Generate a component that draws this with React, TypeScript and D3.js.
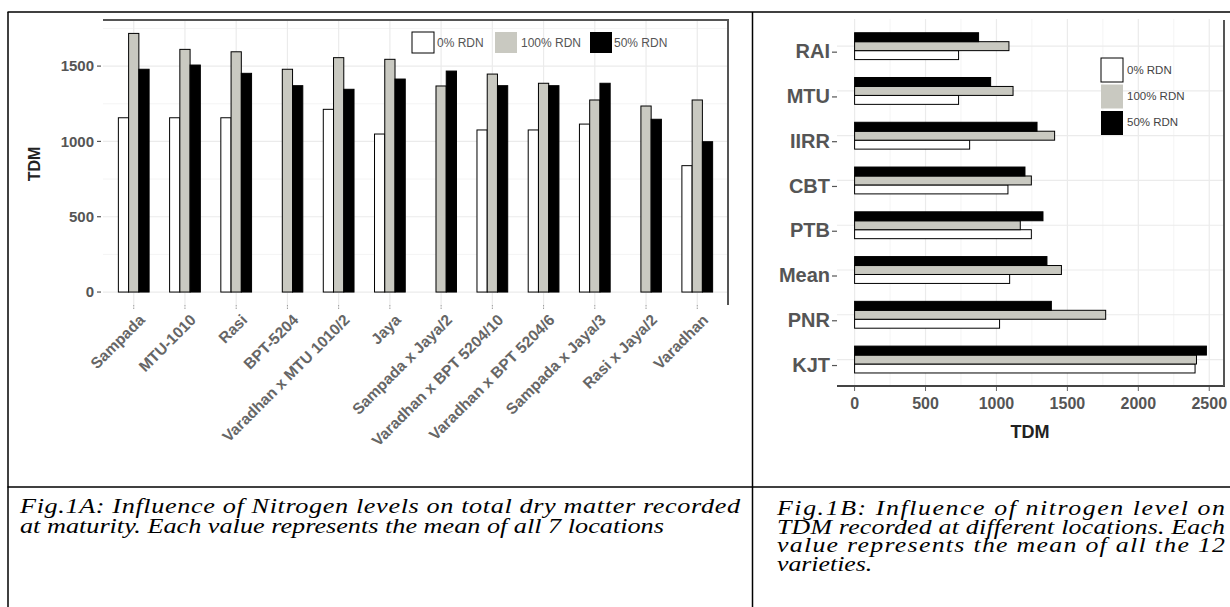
import React from "react";
import * as d3 from "d3";

// ---------- data ----------
const seriesNames = ["0% RDN", "100% RDN", "50% RDN"];
const seriesFills = ["#ffffff", "#c9c9c1", "#000000"];

const leftCats = [
  "Sampada", "MTU-1010", "Rasi", "BPT-5204", "Varadhan x MTU 1010/2", "Jaya",
  "Sampada x Jaya/2", "Varadhan x BPT 5204/10", "Varadhan x BPT 5204/6",
  "Sampada x Jaya/3", "Rasi x Jaya/2", "Varadhan",
];
const leftRdn0: (number | null)[] = [1157, 1157, 1157, null, 1213, 1049, null, 1076, 1076, 1115, null, 839];
const leftRdn100 = [1717, 1611, 1595, 1479, 1556, 1545, 1368, 1447, 1386, 1275, 1235, 1275];
const leftRdn50 = [1479, 1507, 1452, 1370, 1346, 1414, 1467, 1370, 1370, 1386, 1147, 998];
const leftTicks = [0, 500, 1000, 1500];
const leftMinor = [250, 750, 1250, 1750];

const rightCats = ["RAI", "MTU", "IIRR", "CBT", "PTB", "Mean", "PNR", "KJT"];
const rightRdn0 = [733, 733, 811, 1081, 1246, 1093, 1022, 2400];
const rightRdn100 = [1088, 1117, 1410, 1246, 1168, 1458, 1770, 2410];
const rightRdn50 = [874, 959, 1286, 1201, 1328, 1356, 1387, 2480];
const rightTicks = [0, 500, 1000, 1500, 2000, 2500];
const rightMinor = [250, 750, 1250, 1750, 2250];

const captionA = [
  "Fig.1A: Influence of Nitrogen levels on total dry matter recorded",
  "at maturity. Each value represents the mean of all 7 locations",
];
const captionB = [
  "Fig.1B: Influence of nitrogen level on",
  "TDM recorded at different locations. Each",
  "value represents the mean of all the 12",
  "varieties.",
];

const SANS = "'Liberation Sans', Arial, sans-serif";
const SERIF = "'Liberation Serif', 'Times New Roman', serif";

export default function App() {
  // ---------- left chart (vertical bars) ----------
  const lx = d3.scalePoint<string>().domain(leftCats).range([103, 728]).padding(0.6);
  const ly = d3.scaleLinear().domain([-86, 1806]).range([305, 20]);
  const lw = lx.step() * 0.2;
  const leftSeries = [leftRdn0, leftRdn100, leftRdn50];

  // ---------- right chart (horizontal bars) ----------
  const rx = d3.scaleLinear().domain([-124, 2604]).range([837, 1224]);
  const ry = d3.scalePoint<string>().domain(rightCats).range([19.3, 386.4]).padding(0.6);
  const rh = ry.step() * 0.2;
  const rightSeries = [rightRdn0, rightRdn100, rightRdn50];

  const leftLegendX = [412, 495, 590];
  const leftLegendTextX = [437, 521, 614];

  const sA = 1.22;
  const sB = 1.2;

  return (
    <svg
      width={1230}
      height={607}
      style={{ position: "absolute", left: 0, top: 0, background: "#fff" }}
    >
      {/* ================= LEFT CHART ================= */}
      <g>
        {leftMinor.map((v) => (
          <line key={"lm" + v} x1={103} x2={728} y1={ly(v)} y2={ly(v)} stroke="#f4f4f4" strokeWidth={1} />
        ))}
        {leftTicks.map((v) => (
          <line key={"lg" + v} x1={103} x2={728} y1={ly(v)} y2={ly(v)} stroke="#ebebeb" strokeWidth={1.2} />
        ))}
        {leftCats.map((c) => (
          <line key={"lv" + c} x1={lx(c)} x2={lx(c)} y1={20} y2={305} stroke="#ebebeb" strokeWidth={1.2} />
        ))}

        {leftSeries.map((arr, s) =>
          arr.map((v, i) => {
            if (v == null) return null;
            const cx = lx(leftCats[i])!;
            const x0 = cx - 1.5 * lw + s * lw;
            return (
              <rect
                key={`lb${s}-${i}`}
                x={x0}
                y={ly(v)}
                width={lw}
                height={ly(0) - ly(v)}
                fill={seriesFills[s]}
                stroke="#000"
                strokeWidth={1}
              />
            );
          })
        )}

        <line x1={103} x2={729} y1={20} y2={20} stroke="#555" strokeWidth={2} />
        <line x1={728} x2={728} y1={20} y2={305} stroke="#555" strokeWidth={2} />

        {leftTicks.map((v) => (
          <g key={"lt" + v}>
            <line x1={97} x2={101} y1={ly(v)} y2={ly(v)} stroke="#555" strokeWidth={1.2} />
            <text x={94} y={ly(v)} dy="0.36em" textAnchor="end" fontFamily={SANS} fontSize={15} fontWeight="bold" fill="#555">
              {v}
            </text>
          </g>
        ))}
        <text
          transform={`translate(40,${ly(850)}) rotate(-90)`}
          textAnchor="middle"
          fontFamily={SANS}
          fontSize={16}
          fontWeight="bold"
          fill="#222"
        >
          TDM
        </text>

        {leftCats.map((c) => {
          const cx = lx(c)!;
          return (
            <g key={"lxl" + c}>
              <line x1={cx} x2={cx} y1={305} y2={309} stroke="#999" strokeWidth={1} strokeDasharray="1.5,1" />
              <text
                transform={`translate(${cx + 12},${321}) rotate(-45)`}
                textAnchor="end"
                fontFamily={SANS}
                fontSize={15.5}
                fontWeight="bold"
                fill="#666"
              >
                {c}
              </text>
            </g>
          );
        })}

        {seriesNames.map((n, s) => (
          <g key={"ll" + n}>
            <rect x={leftLegendX[s]} y={32} width={22} height={21} fill={seriesFills[s]} stroke={s === 0 ? "#000" : "none"} strokeWidth={1} />
            <text x={leftLegendTextX[s]} y={43} dy="0.35em" fontFamily={SANS} fontSize={12} fill="#555">
              {n}
            </text>
          </g>
        ))}
      </g>

      {/* ================= RIGHT CHART ================= */}
      <g>
        {rightMinor.map((v) => (
          <line key={"rm" + v} x1={rx(v)} x2={rx(v)} y1={19} y2={386} stroke="#f4f4f4" strokeWidth={1} />
        ))}
        {rightTicks.map((v) => (
          <line key={"rg" + v} x1={rx(v)} x2={rx(v)} y1={19} y2={386} stroke="#ebebeb" strokeWidth={1.2} />
        ))}
        {rightCats.map((c) => (
          <line key={"rh" + c} x1={837} x2={1224} y1={ry(c)} y2={ry(c)} stroke="#ebebeb" strokeWidth={1.2} />
        ))}

        {rightSeries.map((arr, s) =>
          arr.map((v, i) => {
            const cy = ry(rightCats[i])!;
            const top = cy + 1.5 * rh - (s + 1) * rh;
            return (
              <rect
                key={`rb${s}-${i}`}
                x={rx(0)}
                y={top}
                width={rx(v) - rx(0)}
                height={rh}
                fill={seriesFills[s]}
                stroke="#000"
                strokeWidth={1}
              />
            );
          })
        )}

        <line x1={837} x2={1225} y1={386} y2={386} stroke="#444" strokeWidth={2} />
        <line x1={1224} x2={1224} y1={20} y2={386} stroke="#555" strokeWidth={2} />

        {rightTicks.map((v) => (
          <g key={"rt" + v}>
            <line x1={rx(v)} x2={rx(v)} y1={387} y2={391} stroke="#666" strokeWidth={1} />
            <text x={rx(v)} y={403} dy="0.36em" textAnchor="middle" fontFamily={SANS} fontSize={16} fontWeight="bold" fill="#555">
              {v}
            </text>
          </g>
        ))}
        <text x={1030} y={432} dy="0.36em" textAnchor="middle" fontFamily={SANS} fontSize={18} fontWeight="bold" fill="#222">
          TDM
        </text>

        {rightCats.map((c) => {
          const cy = ry(c)!;
          return (
            <g key={"ry" + c}>
              <line x1={832} x2={837} y1={cy + 6} y2={cy + 6} stroke="#555" strokeWidth={1.2} />
              <text x={830} y={cy + 5} dy="0.36em" textAnchor="end" fontFamily={SANS} fontSize={20} fontWeight="bold" fill="#555">
                {c}
              </text>
            </g>
          );
        })}

        {seriesNames.map((n, s) => (
          <g key={"rl" + n}>
            <rect x={1101} y={58 + s * 26.5} width={22} height={24} fill={seriesFills[s]} stroke={s === 0 ? "#000" : "none"} strokeWidth={1} />
            <text x={1127} y={70 + s * 26} dy="0.35em" fontFamily={SANS} fontSize={11.5} fill="#444">
              {n}
            </text>
          </g>
        ))}
      </g>

      {/* ================= TABLE BORDERS ================= */}
      <line x1={7.5} x2={1230} y1={12} y2={12} stroke="#000" strokeWidth={1.5} />
      <line x1={8} x2={8} y1={12} y2={607} stroke="#000" strokeWidth={1.5} />
      <line x1={752.5} x2={752.5} y1={12} y2={607} stroke="#000" strokeWidth={1.5} />
      <line x1={7.5} x2={1230} y1={487} y2={487} stroke="#000" strokeWidth={1.5} />

      {/* ================= CAPTIONS ================= */}
      <g transform={`translate(20,513) scale(${sA},1)`} fontFamily={SERIF} fontStyle="italic" fontSize={21.5} fill="#000">
        <text x={0} y={0} textLength={720 / sA} lengthAdjust="spacing">{captionA[0]}</text>
        <text x={0} y={20}>{captionA[1]}</text>
      </g>
      <g transform={`translate(777,515) scale(${sB},1)`} fontFamily={SERIF} fontStyle="italic" fontSize={21.5} fill="#000">
        <text x={0} y={0} textLength={448 / sB} lengthAdjust="spacing">{captionB[0]}</text>
        <text x={0} y={18.6} textLength={448 / sB} lengthAdjust="spacing">{captionB[1]}</text>
        <text x={0} y={37.2} textLength={448 / sB} lengthAdjust="spacing">{captionB[2]}</text>
        <text x={0} y={55.8}>{captionB[3]}</text>
      </g>
    </svg>
  );
}
